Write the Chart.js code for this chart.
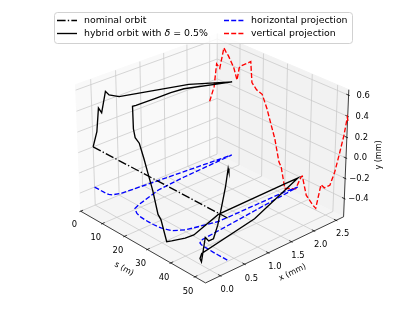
<!DOCTYPE html>
<html>
<head>
<meta charset="utf-8">
<script src="https://cdn.jsdelivr.net/npm/chart.js@4.4.1/dist/chart.umd.min.js"></script>
<style>
  html, body { margin: 0; padding: 0; background: #fff; }
  #wrap { width: 415px; height: 312px; }
</style>
</head>
<body>
<div id="wrap"><canvas id="chart" width="415" height="312"></canvas></div>
<script>
// orbit samples: position along the line (m), horizontal and vertical offset (mm)
const sPos = [0, 2.0, 3.1, 4.5, 6.3, 7.2, 8.3, 10.6, 12.1, 13.0, 13.5, 14.0, 17.0, 17.9, 18.5,
              20.5, 22.9, 25.0, 26.6, 28.5, 30.4, 31.4, 33.1, 34.6, 36.8, 37.6, 39.6, 39.75, 40.2,
              42.0, 44.1, 45.0, 46.0, 47.8, 49.2, 51.3, 53.0, 54.5, 56.0, 57.0, 57.3];
const xOrbit = [0, 0, 0, 0, 0.01, 0.04, 0.19, 1.52, 2.39, 1.30, 1.00, 0.69, 0.13, 0.02, 0,
                -0.06, -0.09, -0.10, -0.10, -0.10, -0.09, -0.08, -0.05, -0.02, 0.15, 0.29, 0.70, 2.14, 2.40,
                1.35, 0.13, 0.05, 0.03, 0.02, 0.02, 0.01, 0.01, 0.01, 0.01, 0.01, 0.01];
const yOrbit = [0, 0.17, 0.41, 0.38, 0.60, 0.57, 0.54, 0.45, 0.34, 0.47, 0.49, 0.50, 0.56, 0.58, 0.38,
                0.33, 0.31, 0.19, 0.07, -0.07, -0.28, -0.32, -0.52, -0.50, -0.48, -0.47, -0.33, -0.32, -0.31,
                -0.48, -0.53, -0.55, -0.565, -0.305, -0.32, -0.27, -0.12, 0.07, 0.27, 0.45, 0.42];
const sNominal = [0, 57.3];

const hProjLevel = -0.4;   // y (mm) of the horizontal projection plane
const vProjLevel = 2.5;    // x (mm) of the vertical projection plane

const sTicks = [0, 10, 20, 30, 40, 50];
const xTicks = [0, 0.5, 1.0, 1.5, 2.0, 2.5];
const yTicks = [-0.4, -0.2, 0.0, 0.2, 0.4, 0.6];

// view of the 3d box
const S_LIM = [0, 54.3], X_LIM = [-0.3, 2.67], Y_LIM = [-0.5825, 0.6514];
const ELEV = 27, AZIM = -42.5, DIST = 10;
const BOX = [4, 4, 3].map(v => v * 1.8294640721620434 / Math.hypot(4, 4, 3));
const K = 1660, CX = 211.7, CY = 151.8, W = 415, H = 312;

const el = ELEV * Math.PI / 180, az = AZIM * Math.PI / 180;
const U = [-Math.sin(az), Math.cos(az), 0];
const V = [-Math.sin(el) * Math.cos(az), -Math.sin(el) * Math.sin(az), Math.cos(el)];
const Wv = [Math.cos(el) * Math.cos(az), Math.cos(el) * Math.sin(az), Math.sin(el)];
const dot = (a, b) => a[0] * b[0] + a[1] * b[1] + a[2] * b[2];
const norm = (v, lim) => (v - lim[0]) / (lim[1] - lim[0]) - 0.5;

function project(s, x, y) {
    const q = [norm(s, S_LIM) * BOX[0], norm(x, X_LIM) * BOX[1], norm(y, Y_LIM) * BOX[2]];
    const d = DIST - dot(Wv, q);
    return { x: dot(U, q) / d, y: dot(V, q) / d };
}

const FONT = "'DejaVu Sans', sans-serif";
const MINUS = '\u2212';
const fmt = (v, dec) => (v < 0 ? MINUS : '') + Math.abs(v).toFixed(dec);

const axes3d = {
    id: 'axes3d',
    beforeDatasetsDraw(chart) {
        const ctx = chart.ctx;
        const xs = chart.scales.x, ys = chart.scales.y;
        const P = (s, x, y) => {
            const p = project(s, x, y);
            return [xs.getPixelForValue(p.x), ys.getPixelForValue(p.y)];
        };
        const [s0, s1] = S_LIM, [x0, x1] = X_LIM, [y0, y1] = Y_LIM;

        const pane = (pts, color) => {
            ctx.beginPath();
            pts.forEach((p, i) => i ? ctx.lineTo(p[0], p[1]) : ctx.moveTo(p[0], p[1]));
            ctx.closePath();
            ctx.fillStyle = color;
            ctx.strokeStyle = color;
            ctx.lineWidth = 1;
            ctx.fill();
            ctx.stroke();
        };
        const line = (a, b, color, lw) => {
            ctx.beginPath();
            ctx.moveTo(a[0], a[1]);
            ctx.lineTo(b[0], b[1]);
            ctx.strokeStyle = color;
            ctx.lineWidth = lw;
            ctx.stroke();
        };

        ctx.save();
        pane([P(s0, x0, y0), P(s0, x1, y0), P(s0, x1, y1), P(s0, x0, y1)], 'rgb(249,249,249)');
        pane([P(s0, x1, y0), P(s1, x1, y0), P(s1, x1, y1), P(s0, x1, y1)], 'rgb(242,242,242)');
        pane([P(s0, x0, y0), P(s1, x0, y0), P(s1, x1, y0), P(s0, x1, y0)], 'rgb(245,245,245)');

        const grid = '#c8c8c8', glw = 0.75;
        sTicks.forEach(s => {
            line(P(s, x0, y0), P(s, x1, y0), grid, glw);
            line(P(s, x1, y0), P(s, x1, y1), grid, glw);
        });
        xTicks.forEach(x => {
            line(P(s0, x, y0), P(s1, x, y0), grid, glw);
            line(P(s0, x, y0), P(s0, x, y1), grid, glw);
        });
        yTicks.forEach(y => {
            line(P(s0, x0, y), P(s0, x1, y), grid, glw);
            line(P(s0, x1, y), P(s1, x1, y), grid, glw);
        });

        // axis lines
        line(P(s0, x0, y0), P(s1, x0, y0), '#000', 0.75);
        line(P(s1, x0, y0), P(s1, x1, y0), '#000', 0.75);
        line(P(s1, x1, y0), P(s1, x1, y1), '#000', 0.75);

        const dS = (s1 - s0) / 12, dX = (x1 - x0) / 12, dY = (y1 - y0) / 12;
        ctx.fillStyle = '#000';
        ctx.font = '8.4px ' + FONT;
        ctx.textAlign = 'center';
        ctx.textBaseline = 'middle';
        sTicks.forEach(s => {
            line(P(s, x0 - 0.1 * dX, y0), P(s, x0 + 0.2 * dX, y0), '#000', 0.75);
            const p = P(s, x0 - 0.56 * dX, y0 - 1.1 * dY);
            ctx.fillText(String(s), p[0], p[1]);
        });
        xTicks.forEach(x => {
            line(P(s1 + 0.1 * dS, x, y0), P(s1 - 0.2 * dS, x, y0), '#000', 0.75);
            const p = P(s1 + 0.6 * dS, x, y0 - 1.0 * dY);
            ctx.fillText(x.toFixed(1), p[0], p[1]);
        });
        yTicks.forEach(y => {
            line(P(s1 + 0.1 * dS, x1, y), P(s1 - 0.2 * dS, x1, y), '#000', 0.75);
            const p = P(s1 + 0.64 * dS, x1 + 0.64 * dX, y);
            ctx.fillText(fmt(y, 1), p[0], p[1]);
        });

        // axis titles
        ctx.font = '8px ' + FONT;
        const title = (txt, x, y, ang) => {
            ctx.save();
            ctx.translate(x, y);
            ctx.rotate(ang * Math.PI / 180);
            ctx.fillText(txt, 0, 0);
            ctx.restore();
        };
        title('s (m)', 124, 269, 29);
        title('x (mm)', 292.5, 272.5, -26);
        title('y (mm)', 379, 155, -90);
        ctx.restore();
    },
    afterDraw(chart) {
        const ctx = chart.ctx;
        ctx.save();
        const bx = 54.5, by = 12.5, bw = 298, bh = 31, r = 3;
        ctx.beginPath();
        ctx.roundRect(bx, by, bw, bh, r);
        ctx.fillStyle = 'rgba(255,255,255,0.8)';
        ctx.fill();
        ctx.strokeStyle = '#cccccc';
        ctx.lineWidth = 0.9;
        ctx.stroke();

        const items = [
            { col: 0, row: 0, color: '#000', dash: [8.6, 2.2, 1.35, 2.2], label: ['nominal orbit'] },
            { col: 0, row: 1, color: '#000', dash: [], label: ['hybrid orbit with ', 'δ', ' = 0.5%'] },
            { col: 1, row: 0, color: '#0000ff', dash: [5, 2.2], label: ['horizontal projection'] },
            { col: 1, row: 1, color: '#ff0000', dash: [5, 2.2], label: ['vertical projection'] }
        ];
        const colX = [57, 224], rowY = [20.5, 33.5];
        ctx.textBaseline = 'middle';
        ctx.textAlign = 'left';
        items.forEach(it => {
            const x = colX[it.col], y = rowY[it.row];
            ctx.beginPath();
            ctx.setLineDash(it.dash);
            ctx.moveTo(x, y);
            ctx.lineTo(x + 20, y);
            ctx.strokeStyle = it.color;
            ctx.lineWidth = 1.35;
            ctx.stroke();
            ctx.setLineDash([]);
            let tx = x + 27;
            ctx.fillStyle = '#000';
            it.label.forEach(part => {
                ctx.font = (part === 'δ' ? 'italic ' : '') + '9.4px ' + FONT;
                ctx.fillText(part, tx, y);
                tx += ctx.measureText(part).width;
            });
        });
        ctx.restore();
    }
};

const nominal = sNominal.map(s => project(s, 0, 0));
const hybrid = sPos.map((s, i) => project(s, xOrbit[i], yOrbit[i]));
const horizontal = sPos.map((s, i) => project(s, xOrbit[i], hProjLevel));
const vertical = sPos.map((s, i) => project(s, vProjLevel, yOrbit[i]));

const lineSet = (label, data, color, dash) => ({
    label, data, borderColor: color, backgroundColor: color, borderDash: dash,
    borderWidth: 1.35, showLine: true, pointRadius: 0, tension: 0, fill: false
});

new Chart(document.getElementById('chart'), {
    type: 'scatter',
    data: {
        datasets: [
            lineSet('hybrid orbit', hybrid, '#000000', []),
            lineSet('nominal orbit', nominal, '#000000', [8.6, 2.2, 1.35, 2.2]),
            lineSet('horizontal projection', horizontal, '#0000ff', [5, 2.2]),
            lineSet('vertical projection', vertical, '#ff0000', [5, 2.2])
        ]
    },
    options: {
        responsive: false,
        animation: false,
        devicePixelRatio: 1,
        layout: { padding: 0 },
        scales: {
            x: { type: 'linear', display: false, min: -CX / K, max: (W - CX) / K },
            y: { type: 'linear', display: false, min: (CY - H) / K, max: CY / K }
        },
        plugins: { legend: { display: false }, tooltip: { enabled: false } }
    },
    plugins: [axes3d]
});
</script>
</body>
</html>
